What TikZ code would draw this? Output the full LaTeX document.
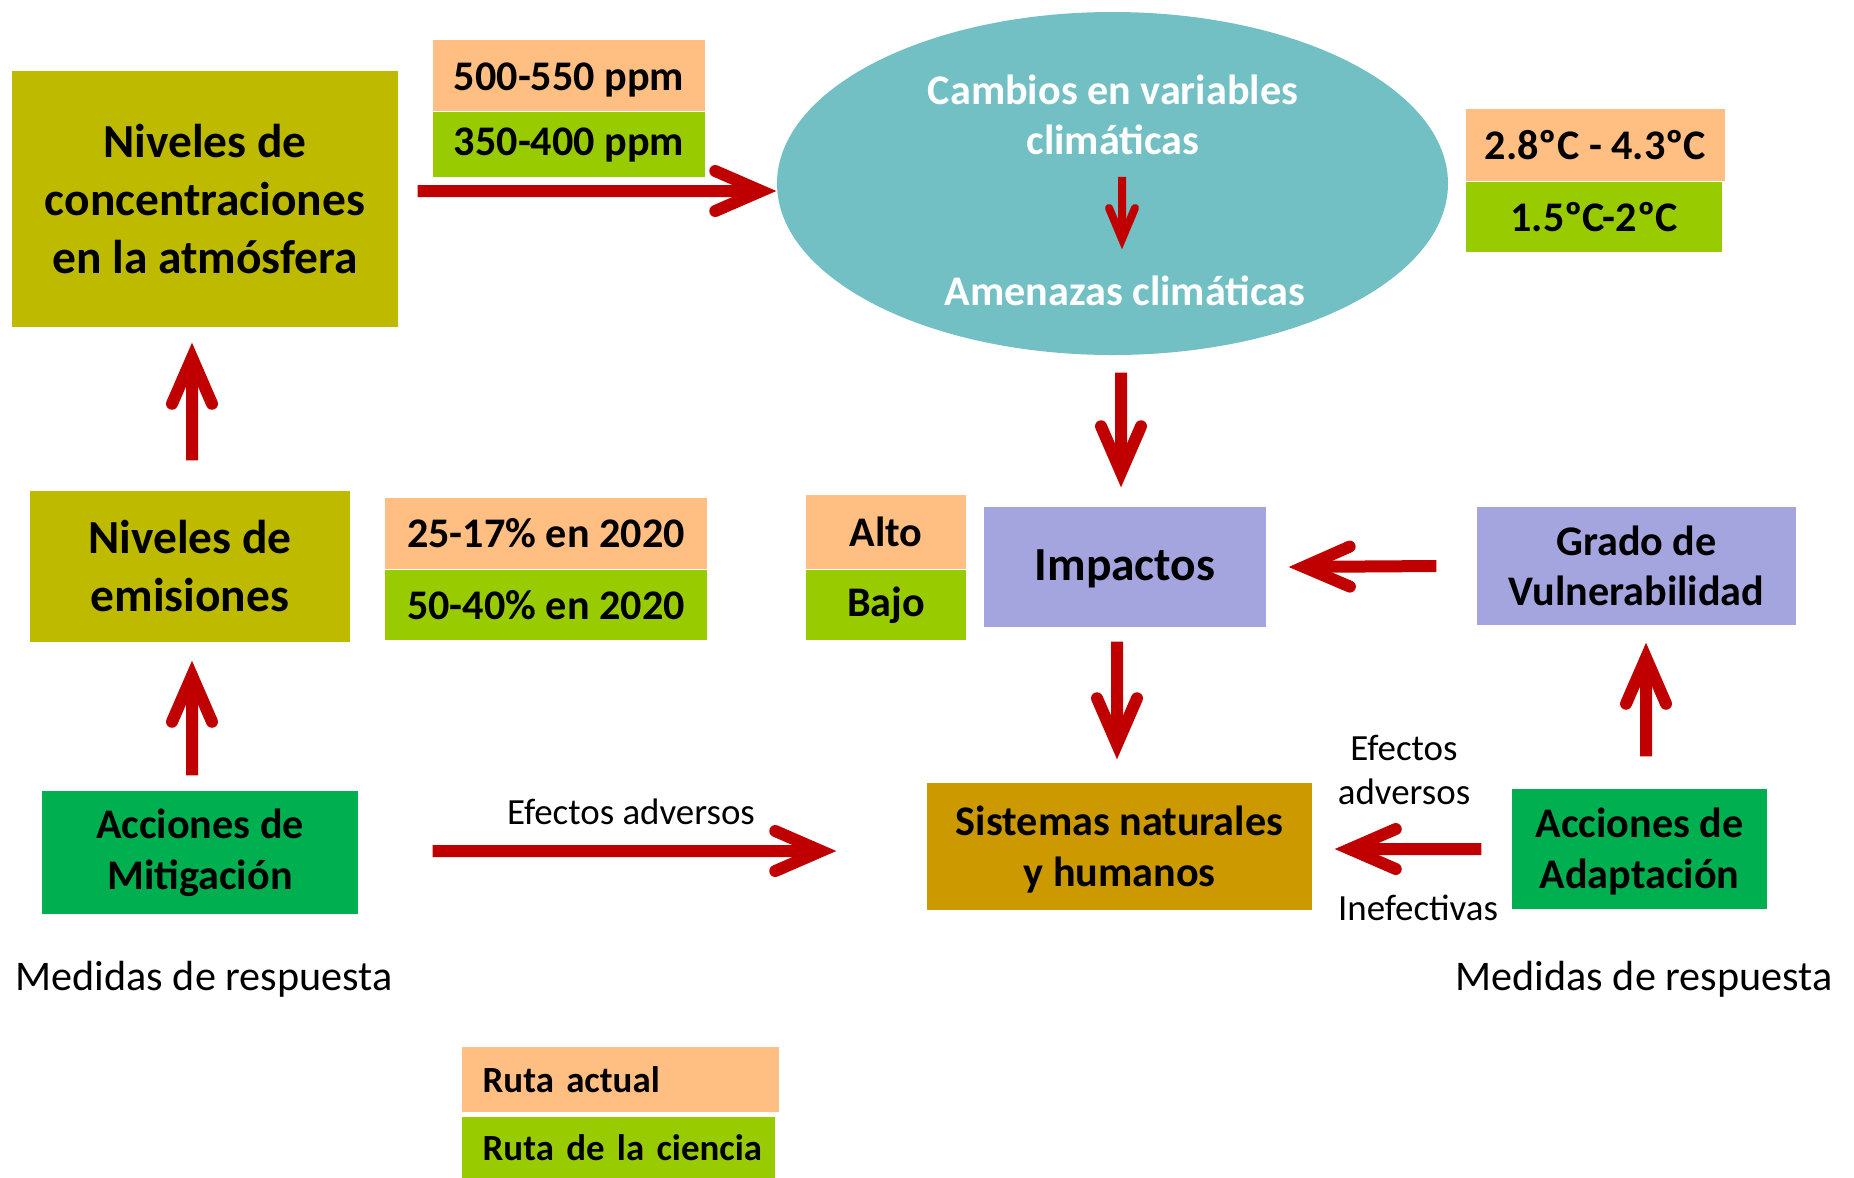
\documentclass[tikz,border=0pt]{standalone}
\usepackage{fontspec}
\setmainfont{Carlito}
\usetikzlibrary{arrows.meta,positioning,shapes.geometric}
\definecolor{olivebox}{RGB}{190,186,0}
\definecolor{orangebox}{RGB}{255,190,130}
\definecolor{limebox}{RGB}{153,204,0}
\definecolor{tealbox}{RGB}{114,191,196}
\definecolor{lavbox}{RGB}{164,164,223}
\definecolor{goldbox}{RGB}{204,153,0}
\definecolor{greenbox}{RGB}{0,176,80}
\definecolor{arrowred}{RGB}{192,0,0}

\begin{document}
\begin{tikzpicture}[
  arr/.style={color=arrowred,line width=1.2mm,
    -{Straight Barb[length=4.6mm,width=4mm,line cap=round,line join=miter]}},
  arrsmall/.style={color=arrowred,line width=0.8mm,
    -{Straight Barb[length=3.1mm,width=2.6mm,line cap=round,line join=miter]}},
  box/.style={rectangle,inner sep=0pt,align=center,font=\fontsize{12}{14.4}\selectfont\bfseries},
  bigbox/.style={box,font=\fontsize{13.5}{16.5}\selectfont\bfseries},
  lbl/.style={inner sep=0pt,align=center,font=\fontsize{10.5}{12.3}\selectfont},
  note/.style={inner sep=0pt,font=\fontsize{12}{14.4}\selectfont},
  ruta/.style={rectangle,inner sep=0pt,inner xsep=2.1mm,align=left,anchor=north west,
    font=\fontsize{10.5}{12.6}\selectfont\bfseries}]
  \useasboundingbox (0,0) rectangle (18.54,-11.77);

  \node[bigbox,fill=olivebox,minimum width=3.86cm,minimum height=2.56cm] (conc) at (2.05,-1.99)
    {Niveles de\\concentraciones\\en la atmósfera};
  \node[box,fill=orangebox,minimum width=2.72cm,minimum height=7.1mm,text height=3.9mm,text depth=0.85mm]
    (ppmact) at (5.69,-0.755) {500-550 ppm};
  \node[box,fill=limebox,minimum width=2.72cm,minimum height=6.5mm,below=0pt of ppmact] (ppmcien) {350-400 ppm};

  \node[ellipse,fill=tealbox,minimum width=6.71cm,minimum height=3.43cm,inner sep=0pt] (clima) at (11.125,-1.835) {};
  \node[box,text=white] (cambios) at (11.13,-1.15) {Cambios en variables\\climáticas};
  \node[box,text=white] (amenazas) at (11.25,-2.91) {Amenazas climáticas};

  \node[box,fill=orangebox,minimum width=2.59cm,minimum height=7.2mm] (tempact) at (15.955,-1.45) {2.8ºC - 4.3ºC};
  \node[box,fill=limebox,minimum width=2.56cm,minimum height=7mm,anchor=north west] (tempcien)
    at (tempact.south west) {1.5ºC-2ºC};

  \node[bigbox,fill=olivebox,minimum width=3.2cm,minimum height=1.51cm] (emis) at (1.90,-5.665)
    {Niveles de\\emisiones};
  \node[box,fill=orangebox,minimum width=3.22cm,minimum height=7.1mm] (pctact) at (5.46,-5.335) {25-17\% en 2020};
  \node[box,fill=limebox,minimum width=3.22cm,minimum height=7mm,below=0pt of pctact] (pctcien) {50-40\% en 2020};

  \node[box,fill=orangebox,minimum width=1.6cm,minimum height=7.4mm] (alto) at (8.86,-5.32) {Alto};
  \node[box,fill=limebox,minimum width=1.6cm,minimum height=7mm,below=0pt of alto] (bajo) {Bajo};
  \node[bigbox,fill=lavbox,minimum width=2.82cm,minimum height=1.2cm,text height=3.7mm,text depth=0.95mm]
    (imp) at (11.25,-5.67) {Impactos};
  \node[box,fill=lavbox,minimum width=3.19cm,minimum height=1.18cm] (vuln) at (16.365,-5.66)
    {Grado de\\Vulnerabilidad};

  \node[box,fill=greenbox,minimum width=3.16cm,minimum height=1.23cm] (mitig) at (2.00,-8.525)
    {Acciones de\\Mitigación};
  \node[box,fill=goldbox,minimum width=3.85cm,minimum height=1.27cm] (sist) at (11.195,-8.465)
    {\rule{0pt}{3.5mm}Sistemas naturales\\y humanos};
  \node[box,fill=greenbox,minimum width=2.55cm,minimum height=1.2cm] (adapt) at (16.395,-8.49)
    {\rule{0pt}{3.5mm}Acciones de\\Adaptación};

  \node[note,anchor=base] (medmit) at (2.04,-9.90) {Medidas de respuesta};
  \node[note,anchor=base] (medadp) at (16.44,-9.90) {Medidas de respuesta};
  \node[lbl,anchor=base] (efecmit) at (6.31,-8.24) {Efectos adversos};
  \node[lbl] (efecadp) at (14.04,-7.70) {Efectos\\adversos};
  \node[lbl,anchor=base] (inef) at (14.18,-9.20) {Inefectivas};

  \node[ruta,fill=orangebox,minimum width=3.17cm,minimum height=6.5mm,text width=2.75cm] (rutaact)
    at (4.61,-10.46) {\mbox{Ruta actual}};
  \node[ruta,fill=limebox,minimum width=3.13cm,minimum height=6.2mm,text width=2.71cm] (rutacien)
    at ([yshift=-0.4mm]rutaact.south west) {\mbox{Ruta de la ciencia}};

  \draw[arr] ([xshift=1.9mm,yshift=0.8mm]conc.east) -- ([yshift=-0.75mm]clima.west);
  \draw[arrsmall] ([xshift=0.9mm,yshift=-2.1mm]cambios.south) -- ([xshift=-0.3mm,yshift=2.6mm]amenazas.north);
  \draw[arr] ([xshift=0.85mm,yshift=-1.7mm]clima.south) -- ([xshift=-0.4mm,yshift=1.9mm]imp.north);
  \draw[arr] ([xshift=-4mm]vuln.west) -- ([xshift=2.2mm]imp.east);
  \draw[arr] ([xshift=-0.8mm,yshift=-1.4mm]imp.south) -- ([xshift=-0.25mm,yshift=2.3mm]sist.north);
  \draw[arr] ([xshift=-3mm]adapt.west) -- ([xshift=2.2mm,yshift=-0.25mm]sist.east);
  \draw[arr] ([xshift=0.65mm,yshift=3.2mm]adapt.north) -- ([xshift=0.95mm,yshift=-1.7mm]vuln.south);
  \draw[arr] ([xshift=0.2mm,yshift=3mm]emis.north) -- ([xshift=-1.3mm,yshift=-1.5mm]conc.south);
  \draw[arr] ([xshift=-0.8mm,yshift=1.5mm]mitig.north) -- ([xshift=0.2mm,yshift=-1.8mm]emis.south);
  \draw[arr] ([xshift=7.4mm,yshift=0.15mm]mitig.east) -- ([xshift=-9mm,yshift=-0.45mm]sist.west);
\end{tikzpicture}
\end{document}
